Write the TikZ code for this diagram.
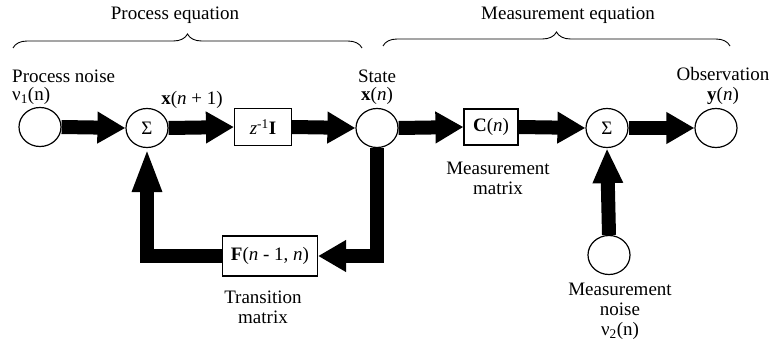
\documentclass[tikz,border=0pt]{standalone}
\usepackage{fontspec}
\setmainfont{Liberation Serif}
\usetikzlibrary{arrows.meta,shapes.geometric,decorations.pathreplacing}
\begin{document}
\begin{tikzpicture}[x=1pt,y=-1pt,
  every node/.style={font=\fontsize{19}{20}\selectfont, inner sep=0pt},
  sig/.style={ellipse, draw, line width=1.2pt, minimum width=42pt, minimum height=39pt},
  blk/.style={rectangle, draw, line width=1.1pt, minimum width=57pt, minimum height=37pt},
  lbl/.style={align=center},
  tight/.style={font=\fontsize{19}{18}\selectfont},
  bigarrow/.style={line width=14pt, line join=miter, -{Triangle[length=28pt,width=30pt]}},
  uparrowA/.style={line width=14pt, line join=miter, -{Triangle[length=44pt,width=27pt]}},
  uparrowB/.style={line width=14pt, line join=miter, -{Triangle[length=35pt,width=28pt]}},
  brc/.style={decorate, decoration={brace, amplitude=14pt, aspect=0.5}, line width=0.9pt}
]
\useasboundingbox (0,0) rectangle (784,345);

% nodes
\node[sig] (pn) at (40,127) {};
\node[sig] (s1) at (147,128) {Σ};
\node[blk] (z) at (263,127) {\textit{z}\textsuperscript{-1}\textbf{I}};
\node[sig] (st) at (377,128) {};
\node[blk, minimum width=54pt, minimum height=36pt] (C) at (491,127) {\textbf{C}(\textit{n})};
\node[sig] (s2) at (607,128) {Σ};
\node[sig] (ob) at (716,128) {};
\node[blk, minimum width=95pt, minimum height=40pt] (F) at (270,256) {\textbf{F}(\textit{n} - 1, \textit{n})};
\node[sig] (mn) at (609,255) {};

% labels
\node (pe) at (175,15) {Process equation};
\node (me) at (568,15) {Measurement equation};
\node[anchor=west, align=left, tight] (pnl) at (12,87) {Process noise\\ν\textsubscript{1}(n)};
\node[align=center, tight] (xn1) at (192,100) {\textbf{x}(\textit{n} + 1)};
\node[align=center, tight] (stl) at (377,87) {State\\\textbf{x}(\textit{n})};
\node[align=center] (obl) at (723,86) {Observation\\\textbf{y}(\textit{n})};
\node[lbl] (mm) at (498,178) {Measurement\\matrix};
\node[lbl] (tm) at (263,307) {Transition\\matrix};
\node[lbl] (mnl) at (620,311) {Measurement\\noise\\ν\textsubscript{2}(n)};

% braces
\coordinate (b1a) at (13,48);
\coordinate (b1b) at (362,48);
\coordinate (b2a) at (383,46);
\coordinate (b2b) at (730,46);
\draw[brc] (b1a) -- (b1b);
\draw[brc] (b2a) -- (b2b);

% connectors
\draw[bigarrow] (pn.east) -- (s1.west);
\draw[bigarrow] (s1.east) -- (z.west);
\draw[bigarrow] (z.east) -- (st.west);
\draw[bigarrow] (st.east) -- (C.west);
\draw[bigarrow] (C.east) -- (s2.west);
\draw[bigarrow] (s2.east) -- (ob.west);
\draw[bigarrow] (st.south) |- (F.east);
\draw[uparrowA] (F.west) -| (s1.south);
\draw[uparrowB] (mn.north) -- (s2.south);
\end{tikzpicture}
\end{document}
